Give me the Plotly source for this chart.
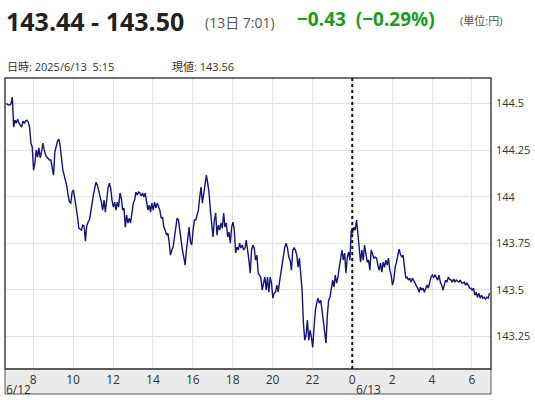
import pandas as pd
import plotly.graph_objects as go

start_time = "2025-06-12 06:37"
step = "4min"

price_a = [144.498, 144.498, 144.492, 144.492, 144.498, 144.535, 144.373, 144.411, 144.395, 144.416,
           144.395, 144.384, 144.373, 144.406, 144.395, 144.406, 144.411, 144.400, 144.373, 144.288,
           144.266, 144.143, 144.181, 144.251, 144.213, 144.262, 144.208, 144.240, 144.288,
           144.251, 144.224, 144.213, 144.203, 144.197, 144.197, 144.154, 144.116, 144.240, 144.278,
           144.299, 144.309, 144.272, 144.208, 144.143, 144.116, 144.089, 144.057, 144.009, 143.971,
           143.966, 144.025, 144.036, 143.977, 143.944, 143.896, 143.832, 143.827, 143.821, 143.848,
           143.843, 143.762, 143.843, 143.864, 143.875, 143.917, 143.971, 144.009, 144.046, 144.078,
           144.062, 144.036, 144.009]
price_b = [143.971, 143.928, 143.982, 143.917, 143.982, 144.046, 144.073, 144.046, 143.982, 143.944,
           143.971, 143.928, 143.971, 143.944, 144.020, 143.993, 143.928, 143.939, 143.837, 143.901,
           143.859, 143.885, 143.859, 143.912, 143.966, 143.982, 144.025, 144.009, 144.025, 144.020,
           144.004, 144.020, 143.998, 144.020, 143.982, 143.928, 143.955, 143.917, 143.966, 143.928,
           143.971, 143.939, 143.966, 143.944, 143.928, 143.885, 143.891, 143.837, 143.821, 143.794,
           143.805, 143.757, 143.687, 143.714, 143.730, 143.784, 143.832, 143.885, 143.875, 143.811,
           143.751, 143.714, 143.676, 143.633, 143.714, 143.794, 143.837, 143.757, 143.741, 143.821,
           143.875]
price_c = [143.875, 143.912, 143.928, 143.998, 144.052, 143.966, 144.020, 144.089, 144.116, 144.073,
           144.020, 143.928, 143.864, 143.784, 143.875, 143.912, 143.794, 143.848, 143.821, 143.859,
           143.832, 143.912, 143.837, 143.859, 143.784, 143.811, 143.751, 143.837, 143.864, 143.821,
           143.698, 143.730, 143.714, 143.751, 143.725, 143.741, 143.714, 143.725, 143.767, 143.725,
           143.660, 143.590, 143.714, 143.741, 143.725, 143.660, 143.687, 143.590, 143.580, 143.563,
           143.499, 143.537, 143.569, 143.499, 143.569, 143.488, 143.569, 143.537, 143.456, 143.483,
           143.488, 143.526, 143.488, 143.542, 143.590, 143.622, 143.676, 143.730, 143.751, 143.725,
           143.676]
price_d = [143.660, 143.606, 143.714, 143.725, 143.714, 143.687, 143.622, 143.671, 143.596, 143.499,
           143.322, 143.230, 143.257, 143.338, 143.230, 143.284, 143.246, 143.192, 143.300, 143.391,
           143.429, 143.456, 143.429, 143.445, 143.391, 143.338, 143.268, 143.214, 143.364, 143.445,
           143.461, 143.499, 143.553, 143.515, 143.580, 143.537, 143.569, 143.622, 143.660, 143.714,
           143.660, 143.698, 143.590, 143.676, 143.703, 143.660, 143.821, 143.805, 143.837, 143.821,
           143.875, 143.794, 143.751, 143.649, 143.714, 143.660, 143.741, 143.703, 143.649, 143.660,
           143.606, 143.714, 143.687, 143.671]
price_e = [143.676, 143.671, 143.633, 143.606, 143.644, 143.596, 143.649, 143.622, 143.660, 143.633,
           143.671, 143.606, 143.580, 143.526, 143.553, 143.622, 143.649, 143.687, 143.719, 143.692,
           143.676, 143.687, 143.617, 143.563, 143.569, 143.553, 143.563, 143.542, 143.563, 143.553,
           143.537, 143.521, 143.510, 143.488, 143.515, 143.499, 143.510, 143.488, 143.510, 143.526,
           143.510, 143.547, 143.569, 143.580, 143.569, 143.580, 143.563, 143.553, 143.580, 143.542,
           143.526, 143.499, 143.526, 143.553, 143.542, 143.569, 143.558, 143.553, 143.542, 143.558,
           143.542, 143.553, 143.547, 143.542, 143.553, 143.537, 143.537, 143.542, 143.526, 143.537,
           143.526, 143.510, 143.510, 143.499, 143.510, 143.472, 143.488, 143.461, 143.483, 143.456,
           143.472, 143.456, 143.461, 143.451, 143.461, 143.456, 143.483]

prices = price_a + price_b + price_c + price_d + price_e
times = pd.date_range(start_time, periods=len(prices), freq=step)

x_tick_vals = ["2025-06-12 08:00", "2025-06-12 10:00", "2025-06-12 12:00", "2025-06-12 14:00",
               "2025-06-12 16:00", "2025-06-12 18:00", "2025-06-12 20:00", "2025-06-12 22:00",
               "2025-06-13 00:00", "2025-06-13 02:00", "2025-06-13 04:00", "2025-06-13 06:00"]
x_tick_text = ["8", "10", "12", "14", "16", "18", "20", "22", "0", "2", "4", "6"]
y_tick_vals = [143.25, 143.5, 143.75, 144, 144.25, 144.5]
y_tick_text = ["143.25", "143.5", "143.75", "144", "144.25", "144.5"]
x_range = ["2025-06-12 06:35", "2025-06-13 06:57:30"]
y_range = [143.076, 144.637]
day_break = "2025-06-13 00:00"

FONT = "Open Sans, Noto Sans CJK JP, sans-serif"

fig = go.Figure()
fig.add_trace(go.Scatter(x=times, y=prices, mode="lines",
                         line=dict(color="#14147a", width=1.4), hoverinfo="skip"))

W, H = 535, 400
L, R, T, B = 5, 44, 78, 31
pw, ph = W - L - R, H - T - B


def px_x(px):
    return (px - L) / pw


def px_y(py):
    return (H - B - py) / ph


fig.update_layout(
    width=W, height=H,
    margin=dict(l=L, r=R, t=T, b=B),
    paper_bgcolor="white", plot_bgcolor="white",
    showlegend=False,
    font=dict(family=FONT, color="#333333", size=11),
    xaxis=dict(range=x_range, type="date", tickmode="array", tickvals=x_tick_vals,
               ticktext=x_tick_text, showgrid=True, gridcolor="#e3e3e3", gridwidth=1,
               zeroline=False, showline=False, ticks="", tickfont=dict(size=12, color="#333333"),
               ticklabelstandoff=2),
    yaxis=dict(range=y_range, side="right", tickmode="array", tickvals=y_tick_vals,
               ticktext=y_tick_text, showgrid=True, gridcolor="#e3e3e3", gridwidth=1,
               zeroline=False, showline=False, ticks="", tickfont=dict(size=11, color="#333333"),
               ticklabelstandoff=4),
)

# axis band below the plot
fig.add_shape(type="rect", xref="paper", yref="paper", x0=0, x1=1, y0=px_y(394), y1=0,
              fillcolor="#ebebeb", line=dict(color="#555555", width=1), layer="below")
# plot frame
fig.add_shape(type="rect", xref="paper", yref="paper", x0=0, x1=1, y0=0, y1=1,
              line=dict(color="#444444", width=1.5), layer="above")
# day break dashed line
fig.add_shape(type="line", xref="x", yref="paper", x0=day_break, x1=day_break, y0=0, y1=1,
              line=dict(color="#111111", width=2, dash="dot"), layer="above")

# date labels on the time axis
fig.add_annotation(x="2025-06-12 08:00", xref="x", y=px_y(389), yref="paper", text="6/12",
                   showarrow=False, xanchor="right", yanchor="middle", xshift=0,
                   font=dict(size=12, color="#333333"))
fig.add_annotation(x=day_break, xref="x", y=px_y(389), yref="paper", text="6/13",
                   showarrow=False, xanchor="left", yanchor="middle", xshift=2,
                   font=dict(size=12, color="#333333"))

# header texts
fig.add_annotation(x=px_x(4), y=px_y(21), xref="paper", yref="paper", text="<b>143.44 - 143.50</b>",
                   showarrow=False, xanchor="left", yanchor="middle",
                   font=dict(size=25, color="#222222"))
fig.add_annotation(x=px_x(203), y=px_y(22), xref="paper", yref="paper", text="(13日 7:01)",
                   showarrow=False, xanchor="left", yanchor="middle",
                   font=dict(size=14, color="#555555"))
fig.add_annotation(x=px_x(295), y=px_y(19), xref="paper", yref="paper",
                   text="<b>\u22120.43  (\u22120.29%)</b>",
                   showarrow=False, xanchor="left", yanchor="middle",
                   font=dict(size=19, color="#1e9a1e"))
fig.add_annotation(x=px_x(458), y=px_y(20), xref="paper", yref="paper", text="(単位:円)",
                   showarrow=False, xanchor="left", yanchor="middle",
                   font=dict(size=11, color="#555555"))
fig.add_annotation(x=px_x(5), y=px_y(67), xref="paper", yref="paper",
                   text="日時: 2025/6/13  5:15",
                   showarrow=False, xanchor="left", yanchor="middle",
                   font=dict(size=11, color="#333333"))
fig.add_annotation(x=px_x(170), y=px_y(67), xref="paper", yref="paper", text="現値: 143.56",
                   showarrow=False, xanchor="left", yanchor="middle",
                   font=dict(size=11, color="#333333"))

fig.write_html("out.html", config={"displayModeBar": False, "staticPlot": True},
               post_script="document.body.style.margin='0';")
